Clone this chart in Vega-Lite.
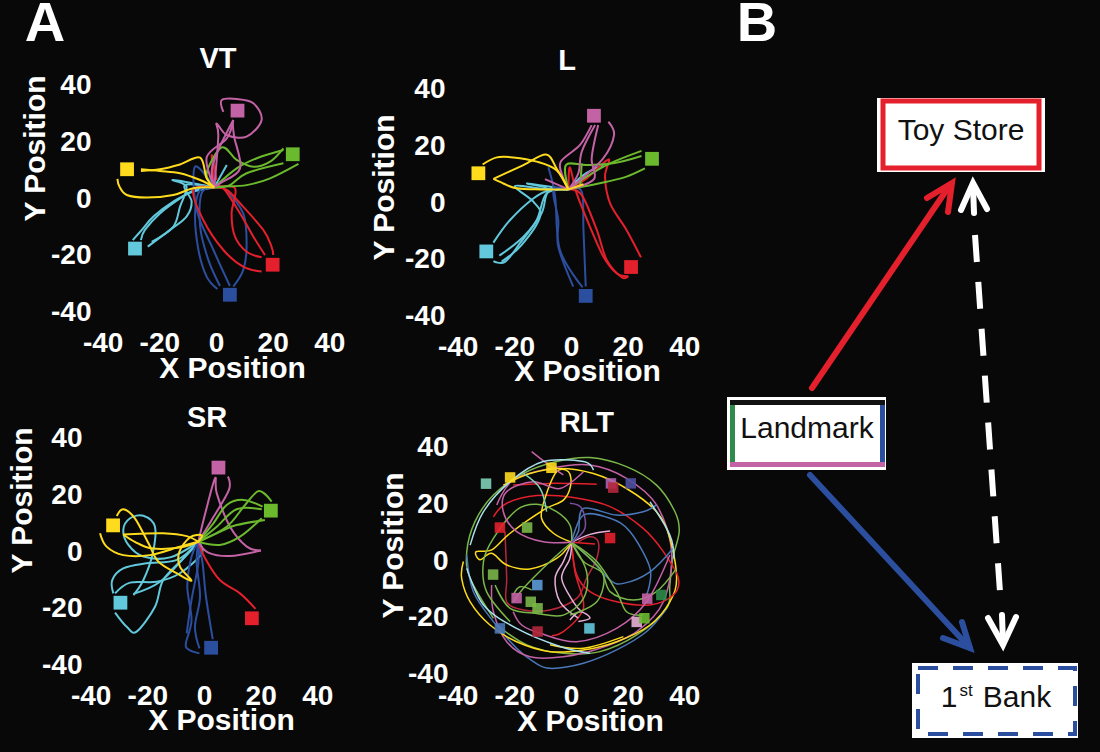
{"$schema":"https://vega.github.io/schema/vega-lite/v6.json","width":1100,"height":752,"padding":0,"autosize":"none","background":"#080808",
"config":{"view":{"stroke":null},"axis":{"domain":false,"ticks":false,"grid":false,"labelColor":"#ffffff","titleColor":"#ffffff","labelFont":"Liberation Sans","titleFont":"Liberation Sans","labelFontWeight":"bold","titleFontWeight":"bold","labelFontSize":28,"titleFontSize":30,"labelOverlap":false,"labelBound":false,"labelFlush":false,"titleBaseline":"middle","titleAnchor":"middle","labelExpr":"datum.value<0?'-'+abs(datum.value):''+datum.value"},"text":{"font":"Liberation Sans"}},
"datasets":{
"vt":[
{"c":"cyan","p":"c1","x":-0.6,"y":4.1},{"c":"cyan","p":"c1","x":-8,"y":2.6},{"c":"cyan","p":"c1","x":-15.1,"y":-0.9},{"c":"cyan","p":"c1","x":-22.1,"y":-6.2},{"c":"cyan","p":"c1","x":-26.2,"y":-10.9},{"c":"cyan","p":"c1","x":-29.4,"y":-14.5},
{"c":"cyan","p":"c2","x":-0.6,"y":4.1},{"c":"cyan","p":"c2","x":-7.4,"y":3.2},{"c":"cyan","p":"c2","x":-12.7,"y":0.2},{"c":"cyan","p":"c2","x":-19.8,"y":-5.1},{"c":"cyan","p":"c2","x":-25.1,"y":-10.9},{"c":"cyan","p":"c2","x":-26.5,"y":-14.5},
{"c":"cyan","p":"c3","x":-0.6,"y":4.1},{"c":"cyan","p":"c3","x":-10.9,"y":4.9},{"c":"cyan","p":"c3","x":-8.6,"y":-0.9},{"c":"cyan","p":"c3","x":-10.4,"y":-6.2},{"c":"cyan","p":"c3","x":-16.2,"y":-10.9},{"c":"cyan","p":"c3","x":-24.1,"y":-16.8},
{"c":"cyan","p":"c4","x":-0.6,"y":4.1},{"c":"cyan","p":"c4","x":-15.1,"y":6.7},{"c":"cyan","p":"c4","x":-10.4,"y":4.4},{"c":"cyan","p":"c4","x":-12.7,"y":-2.7},{"c":"cyan","p":"c4","x":-15.1,"y":-9.8},{"c":"cyan","p":"c4","x":-22.7,"y":-15.1},
{"c":"cyan","p":"c5","x":-0.6,"y":4.1},{"c":"cyan","p":"c5","x":3.8,"y":12},
{"c":"blue","p":"b1","x":-0.6,"y":4.1},{"c":"blue","p":"b1","x":-5.6,"y":3.2},{"c":"blue","p":"b1","x":-7.4,"y":-5.1},{"c":"blue","p":"b1","x":-6.2,"y":-18},{"c":"blue","p":"b1","x":-3.3,"y":-27.4},{"c":"blue","p":"b1","x":0.5,"y":-31.8},
{"c":"blue","p":"b2","x":-0.6,"y":4.1},{"c":"blue","p":"b2","x":-5.1,"y":2},{"c":"blue","p":"b2","x":-5.6,"y":-9.8},{"c":"blue","p":"b2","x":-2.7,"y":-21.5},{"c":"blue","p":"b2","x":1.4,"y":-30.7},
{"c":"blue","p":"b3","x":-0.6,"y":4.1},{"c":"blue","p":"b3","x":-7.4,"y":11.4},{"c":"blue","p":"b3","x":-6.8,"y":-3.9},{"c":"blue","p":"b3","x":-0.9,"y":-18},{"c":"blue","p":"b3","x":4.9,"y":-30.7},
{"c":"blue","p":"b4","x":-0.6,"y":4.1},{"c":"blue","p":"b4","x":2.6,"y":3.8},{"c":"blue","p":"b4","x":9.6,"y":-5.1},{"c":"blue","p":"b4","x":10.8,"y":-16.8},{"c":"blue","p":"b4","x":9.6,"y":-25.1},{"c":"blue","p":"b4","x":6.1,"y":-30.9},
{"c":"red","p":"r1","x":-0.6,"y":4.1},{"c":"red","p":"r1","x":-8,"y":3.2},{"c":"red","p":"r1","x":-4.5,"y":-7.4},{"c":"red","p":"r1","x":2.6,"y":-18},{"c":"red","p":"r1","x":9.6,"y":-23.9},{"c":"red","p":"r1","x":16.1,"y":-25.6},
{"c":"red","p":"r2","x":-0.6,"y":4.1},{"c":"red","p":"r2","x":6.7,"y":3.8},{"c":"red","p":"r2","x":5.5,"y":-5.1},{"c":"red","p":"r2","x":6.7,"y":-13.3},{"c":"red","p":"r2","x":10.8,"y":-18.6},{"c":"red","p":"r2","x":16.1,"y":-20.6},
{"c":"red","p":"r3","x":-0.6,"y":4.1},{"c":"red","p":"r3","x":3.8,"y":3.2},{"c":"red","p":"r3","x":8.5,"y":-1.5},{"c":"red","p":"r3","x":16.7,"y":-10.9},{"c":"red","p":"r3","x":19.6,"y":-16.8},{"c":"red","p":"r3","x":20.2,"y":-19.8},
{"c":"red","p":"r4","x":-0.6,"y":4.1},{"c":"red","p":"r4","x":2.6,"y":3.8},{"c":"red","p":"r4","x":8.5,"y":-5.1},{"c":"red","p":"r4","x":13.2,"y":-13.3},{"c":"red","p":"r4","x":17.3,"y":-19.8},
{"c":"red","p":"r5","x":-0.6,"y":4.1},{"c":"red","p":"r5","x":-1.5,"y":15.5},{"c":"red","p":"r5","x":0.2,"y":6.7},
{"c":"green","p":"g1","x":-0.6,"y":4.1},{"c":"green","p":"g1","x":2.6,"y":4.4},{"c":"green","p":"g1","x":10.8,"y":4.9},{"c":"green","p":"g1","x":19.1,"y":7.3},{"c":"green","p":"g1","x":29.1,"y":12.4},
{"c":"green","p":"g2","x":-0.6,"y":4.1},{"c":"green","p":"g2","x":4.9,"y":4.9},{"c":"green","p":"g2","x":10.8,"y":9.1},{"c":"green","p":"g2","x":23.8,"y":12.6},
{"c":"green","p":"g3","x":-0.6,"y":4.1},{"c":"green","p":"g3","x":-3.3,"y":9.1},{"c":"green","p":"g3","x":2,"y":18.2},{"c":"green","p":"g3","x":7.3,"y":13.8},{"c":"green","p":"g3","x":13.2,"y":11.4},{"c":"green","p":"g3","x":19.1,"y":13.2},{"c":"green","p":"g3","x":23.8,"y":17.9},
{"c":"green","p":"g4","x":-0.6,"y":4.1},{"c":"green","p":"g4","x":7.3,"y":10.8},{"c":"green","p":"g4","x":14.4,"y":14.4},{"c":"green","p":"g4","x":23.8,"y":17.3},
{"c":"magenta","p":"m1","x":-0.6,"y":4.1},{"c":"magenta","p":"m1","x":-1.5,"y":10.2},{"c":"magenta","p":"m1","x":0.8,"y":17.3},{"c":"magenta","p":"m1","x":6.1,"y":27.9},
{"c":"magenta","p":"m2","x":-0.6,"y":4.1},{"c":"magenta","p":"m2","x":-3.3,"y":14.7},{"c":"magenta","p":"m2","x":3.8,"y":21.4},{"c":"magenta","p":"m2","x":6.1,"y":27.9},
{"c":"magenta","p":"m3","x":-0.6,"y":4.1},{"c":"magenta","p":"m3","x":1.4,"y":5.5},{"c":"magenta","p":"m3","x":8.5,"y":10.8},{"c":"magenta","p":"m3","x":6.4,"y":22},{"c":"magenta","p":"m3","x":5.9,"y":27.3},
{"c":"magenta","p":"m4","x":-0.6,"y":4.1},{"c":"magenta","p":"m4","x":0.8,"y":22},{"c":"magenta","p":"m4","x":0.2,"y":26.7},{"c":"magenta","p":"m4","x":3.8,"y":22.6},{"c":"magenta","p":"m4","x":10.8,"y":22},{"c":"magenta","p":"m4","x":16.1,"y":27.9},{"c":"magenta","p":"m4","x":13.2,"y":33.8},{"c":"magenta","p":"m4","x":7.3,"y":35.3},{"c":"magenta","p":"m4","x":2,"y":34.9},{"c":"magenta","p":"m4","x":2.6,"y":30.8},
{"c":"yellow","p":"y1","x":-0.6,"y":4.1},{"c":"yellow","p":"y1","x":-5.6,"y":6.7},{"c":"yellow","p":"y1","x":-12.7,"y":9.1},{"c":"yellow","p":"y1","x":-19.8,"y":9.9},{"c":"yellow","p":"y1","x":-26.5,"y":10.5},
{"c":"yellow","p":"y2","x":-0.6,"y":4.1},{"c":"yellow","p":"y2","x":-3.3,"y":7.3},{"c":"yellow","p":"y2","x":-5.6,"y":14.6},{"c":"yellow","p":"y2","x":-12.7,"y":12.2},{"c":"yellow","p":"y2","x":-19.8,"y":10.5},{"c":"yellow","p":"y2","x":-26.5,"y":9.9},
{"c":"yellow","p":"y3","x":-0.6,"y":4.1},{"c":"yellow","p":"y3","x":-8,"y":3.8},{"c":"yellow","p":"y3","x":-15.1,"y":1.4},{"c":"yellow","p":"y3","x":-24.5,"y":0.5},{"c":"yellow","p":"y3","x":-31.5,"y":1.4},{"c":"yellow","p":"y3","x":-34.1,"y":4.4},{"c":"yellow","p":"y3","x":-34.8,"y":7.1}],
"vtT":[{"c":"magenta","x":7.6,"y":31.2},{"c":"green","x":27.1,"y":15.8},{"c":"yellow","x":-31.4,"y":10.5},{"c":"cyan","x":-28.6,"y":-17.5},{"c":"red","x":20,"y":-23.2},{"c":"blue","x":4.9,"y":-33.8}],
"vtL":[{"t":"VT","x":0.7,"y":49.5}],
"vtA":[{"t":"A","x":-60.4,"y":61.7}],
"l":[
{"c":"cyan","p":"c1","x":-0.9,"y":4.8},{"c":"cyan","p":"c1","x":-7.4,"y":4.6},{"c":"cyan","p":"c1","x":-13.3,"y":1.6},{"c":"cyan","p":"c1","x":-21.5,"y":-6},{"c":"cyan","p":"c1","x":-27.4,"y":-14},
{"c":"cyan","p":"c2","x":-0.9,"y":4.8},{"c":"cyan","p":"c2","x":-8,"y":4},{"c":"cyan","p":"c2","x":-10.4,"y":-3.6},{"c":"cyan","p":"c2","x":-16.8,"y":-11.9},{"c":"cyan","p":"c2","x":-25.3,"y":-18.6},
{"c":"cyan","p":"c3","x":-0.9,"y":4.8},{"c":"cyan","p":"c3","x":-8.6,"y":3.4},{"c":"cyan","p":"c3","x":-12.1,"y":-6},{"c":"cyan","p":"c3","x":-18,"y":-14.2},{"c":"cyan","p":"c3","x":-23.3,"y":-20.8},{"c":"cyan","p":"c3","x":-27.4,"y":-20.5},
{"c":"cyan","p":"c4","x":-0.9,"y":4.8},{"c":"cyan","p":"c4","x":-15.4,"y":6.9},{"c":"cyan","p":"c4","x":-8.6,"y":5.5},
{"c":"cyan","p":"c5","x":-0.9,"y":4.8},{"c":"cyan","p":"c5","x":-10,"y":5},{"c":"cyan","p":"c5","x":-19.8,"y":6},{"c":"cyan","p":"c5","x":-13.3,"y":0.5},{"c":"cyan","p":"c5","x":-10.9,"y":-4.8},{"c":"cyan","p":"c5","x":-17.4,"y":-14.8},{"c":"cyan","p":"c5","x":-24.5,"y":-20.7},
{"c":"cyan","p":"c6","x":-0.9,"y":4.8},{"c":"cyan","p":"c6","x":4.4,"y":9.9},{"c":"cyan","p":"c6","x":11.4,"y":13.4},
{"c":"blue","p":"b1","x":-0.9,"y":4.8},{"c":"blue","p":"b1","x":-6.2,"y":4.6},{"c":"blue","p":"b1","x":-4.5,"y":-6},{"c":"blue","p":"b1","x":-4.5,"y":-15.4},{"c":"blue","p":"b1","x":0.8,"y":-29.5},
{"c":"blue","p":"b2","x":-8,"y":12.6},{"c":"blue","p":"b2","x":-5.6,"y":2.2},{"c":"blue","p":"b2","x":-3.9,"y":-16.6},{"c":"blue","p":"b2","x":4.1,"y":-29.8},
{"c":"blue","p":"b3","x":-0.9,"y":4.8},{"c":"blue","p":"b3","x":3.8,"y":4},{"c":"blue","p":"b3","x":4.4,"y":-9.5},{"c":"blue","p":"b3","x":5.2,"y":-29.5},
{"c":"red","p":"r1","x":-0.9,"y":4.8},{"c":"red","p":"r1","x":-0.4,"y":12.6},{"c":"red","p":"r1","x":2,"y":3.4},{"c":"red","p":"r1","x":6.7,"y":-8.4},{"c":"red","p":"r1","x":11.4,"y":-18.9},{"c":"red","p":"r1","x":16.1,"y":-24.8},{"c":"red","p":"r1","x":20.2,"y":-25.8},
{"c":"red","p":"r2","x":-0.9,"y":4.8},{"c":"red","p":"r2","x":3.8,"y":2.8},{"c":"red","p":"r2","x":9.1,"y":-9.5},{"c":"red","p":"r2","x":12.6,"y":-20.1},{"c":"red","p":"r2","x":17.9,"y":-26.2},{"c":"red","p":"r2","x":20.2,"y":-25.8},
{"c":"red","p":"r3","x":-0.9,"y":4.8},{"c":"red","p":"r3","x":5.5,"y":8.7},{"c":"red","p":"r3","x":13.2,"y":15.4},{"c":"red","p":"r3","x":12,"y":9.3},{"c":"red","p":"r3","x":13.8,"y":-0.1},{"c":"red","p":"r3","x":19.6,"y":-9.5},{"c":"red","p":"r3","x":24.7,"y":-19.2},
{"c":"green","p":"g1","x":-0.9,"y":4.8},{"c":"green","p":"g1","x":4.4,"y":5.8},{"c":"green","p":"g1","x":12.6,"y":7.5},{"c":"green","p":"g1","x":19.6,"y":9.3},{"c":"green","p":"g1","x":26.1,"y":12.2},
{"c":"green","p":"g2","x":-0.9,"y":4.8},{"c":"green","p":"g2","x":-1.8,"y":13.4},{"c":"green","p":"g2","x":5.5,"y":13.4},{"c":"green","p":"g2","x":14.9,"y":14},{"c":"green","p":"g2","x":24.9,"y":16.6},
{"c":"green","p":"g3","x":-0.9,"y":4.8},{"c":"green","p":"g3","x":5.5,"y":9.3},{"c":"green","p":"g3","x":13.8,"y":14},{"c":"green","p":"g3","x":24.9,"y":18.4},
{"c":"green","p":"g4","x":3.8,"y":14},{"c":"green","p":"g4","x":3.2,"y":5.2},
{"c":"magenta","p":"m1","x":-0.9,"y":4.8},{"c":"magenta","p":"m1","x":-2.9,"y":9.3},{"c":"magenta","p":"m1","x":-3.6,"y":14.6},{"c":"magenta","p":"m1","x":3.2,"y":20.5},{"c":"magenta","p":"m1","x":7.3,"y":27.5},
{"c":"magenta","p":"m2","x":-0.9,"y":4.8},{"c":"magenta","p":"m2","x":2.6,"y":10.5},{"c":"magenta","p":"m2","x":3.8,"y":18.1},{"c":"magenta","p":"m2","x":8.5,"y":27.5},
{"c":"magenta","p":"m3","x":-0.9,"y":4.8},{"c":"magenta","p":"m3","x":8.1,"y":8.4},{"c":"magenta","p":"m3","x":7.3,"y":15.8},{"c":"magenta","p":"m3","x":9.6,"y":27.5},
{"c":"magenta","p":"m4","x":-0.9,"y":4.8},{"c":"magenta","p":"m4","x":3.2,"y":8.1},{"c":"magenta","p":"m4","x":11.4,"y":15.8},{"c":"magenta","p":"m4","x":15.2,"y":24},{"c":"magenta","p":"m4","x":13.2,"y":28.7},
{"c":"magenta","p":"m5","x":-0.9,"y":4.8},{"c":"magenta","p":"m5","x":-9.2,"y":8.4},
{"c":"yellow","p":"y1","x":-0.9,"y":4.8},{"c":"yellow","p":"y1","x":-5.1,"y":11.6},{"c":"yellow","p":"y1","x":-12.1,"y":14.6},{"c":"yellow","p":"y1","x":-20.4,"y":16.1},{"c":"yellow","p":"y1","x":-26.2,"y":16.1},{"c":"yellow","p":"y1","x":-31.2,"y":13.6},
{"c":"yellow","p":"y2","x":-0.9,"y":4.8},{"c":"yellow","p":"y2","x":-5.1,"y":12.2},{"c":"yellow","p":"y2","x":-8.8,"y":17.1},{"c":"yellow","p":"y2","x":-16.8,"y":13.4},{"c":"yellow","p":"y2","x":-27.4,"y":8.5},
{"c":"yellow","p":"y3","x":-0.9,"y":4.8},{"c":"yellow","p":"y3","x":-10.9,"y":4.8},{"c":"yellow","p":"y3","x":-19.2,"y":5.2},{"c":"yellow","p":"y3","x":-23.9,"y":6.9},{"c":"yellow","p":"y3","x":-27.4,"y":8.5},
{"c":"yellow","p":"y4","x":-0.9,"y":4.8},{"c":"yellow","p":"y4","x":4.4,"y":6.6}],
"lT":[{"c":"magenta","x":8.1,"y":30.8},{"c":"green","x":28.6,"y":15.6},{"c":"yellow","x":-32.7,"y":10.5},{"c":"cyan","x":-29.9,"y":-17.1},{"c":"red","x":21.2,"y":-22.6},{"c":"blue","x":5.2,"y":-32.8}],
"lL":[{"t":"L","x":-1.4,"y":50.2}],
"sr":[
{"c":"cyan","p":"c1","x":-2,"y":3.6},{"c":"cyan","p":"c1","x":-12,"y":-1.9},{"c":"cyan","p":"c1","x":-21.4,"y":-1.6},{"c":"cyan","p":"c1","x":-26.7,"y":2.5},{"c":"cyan","p":"c1","x":-28.5,"y":7.8},{"c":"cyan","p":"c1","x":-26.1,"y":11.9},{"c":"cyan","p":"c1","x":-21.4,"y":12.8},{"c":"cyan","p":"c1","x":-17.3,"y":8.9},{"c":"cyan","p":"c1","x":-18.1,"y":-0.5},{"c":"cyan","p":"c1","x":-21.4,"y":-9.9},{"c":"cyan","p":"c1","x":-24.9,"y":-15.2},
{"c":"cyan","p":"c2","x":-2,"y":3.6},{"c":"cyan","p":"c2","x":-9.6,"y":-2.8},{"c":"cyan","p":"c2","x":-20.2,"y":-4},{"c":"cyan","p":"c2","x":-28.5,"y":-5.8},{"c":"cyan","p":"c2","x":-32.4,"y":-9.9},{"c":"cyan","p":"c2","x":-32,"y":-14.6},
{"c":"cyan","p":"c3","x":-2,"y":3.6},{"c":"cyan","p":"c3","x":-0.8,"y":-0.5},{"c":"cyan","p":"c3","x":-8.5,"y":-7.5},{"c":"cyan","p":"c3","x":-16.7,"y":-10.5},{"c":"cyan","p":"c3","x":-26.1,"y":-10.8},{"c":"cyan","p":"c3","x":-31.4,"y":-14.6},
{"c":"cyan","p":"c4","x":-2,"y":3.6},{"c":"cyan","p":"c4","x":-6.1,"y":-1.1},{"c":"cyan","p":"c4","x":-15.5,"y":-10.5},{"c":"cyan","p":"c4","x":-24.9,"y":-14.8},
{"c":"cyan","p":"c5","x":-2,"y":3.6},{"c":"cyan","p":"c5","x":-7.3,"y":-2.2},{"c":"cyan","p":"c5","x":-14.4,"y":-9.9},{"c":"cyan","p":"c5","x":-17.3,"y":-19.3},{"c":"cyan","p":"c5","x":-23.8,"y":-28.1},{"c":"cyan","p":"c5","x":-27.3,"y":-26.4},{"c":"cyan","p":"c5","x":-31.4,"y":-21.4},
{"c":"blue","p":"b1","x":-2,"y":3.6},{"c":"blue","p":"b1","x":-4.4,"y":-1.6},{"c":"blue","p":"b1","x":-5.9,"y":-12.2},{"c":"blue","p":"b1","x":-4.4,"y":-24},{"c":"blue","p":"b1","x":-6.4,"y":-32.2},{"c":"blue","p":"b1","x":-5.5,"y":-34.4},{"c":"blue","p":"b1","x":-1.6,"y":-35.8},
{"c":"blue","p":"b2","x":-2,"y":3.6},{"c":"blue","p":"b2","x":-2,"y":-4},{"c":"blue","p":"b2","x":-4.4,"y":-16.9},{"c":"blue","p":"b2","x":-6.1,"y":-28.7},
{"c":"blue","p":"b3","x":-2,"y":3.6},{"c":"blue","p":"b3","x":-2.6,"y":-4},{"c":"blue","p":"b3","x":-1.4,"y":-15.8},{"c":"blue","p":"b3","x":-3.2,"y":-26.4},{"c":"blue","p":"b3","x":-1.6,"y":-34},
{"c":"blue","p":"b4","x":-2,"y":3.6},{"c":"blue","p":"b4","x":-0.5,"y":-4},{"c":"blue","p":"b4","x":0.7,"y":-15.8},{"c":"blue","p":"b4","x":3.1,"y":-30.8},
{"c":"red","p":"r1","x":-2,"y":3.6},{"c":"red","p":"r1","x":0.4,"y":-2.2},{"c":"red","p":"r1","x":5.6,"y":-9.9},{"c":"red","p":"r1","x":12.7,"y":-14.6},{"c":"red","p":"r1","x":18.2,"y":-20.1},
{"c":"magenta","p":"m1","x":-2,"y":3.6},{"c":"magenta","p":"m1","x":0.4,"y":13.5},{"c":"magenta","p":"m1","x":3.9,"y":26},{"c":"magenta","p":"m1","x":4.5,"y":20.7},{"c":"magenta","p":"m1","x":9.2,"y":8.9},{"c":"magenta","p":"m1","x":15.1,"y":1.9},{"c":"magenta","p":"m1","x":20.1,"y":0.5},
{"c":"magenta","p":"m2","x":-2,"y":3.6},{"c":"magenta","p":"m2","x":2.7,"y":11.3},{"c":"magenta","p":"m2","x":8.8,"y":21.9},{"c":"magenta","p":"m2","x":8.4,"y":26.6},
{"c":"magenta","p":"m4","x":-2,"y":3.6},{"c":"magenta","p":"m4","x":1.5,"y":-0.2},{"c":"magenta","p":"m4","x":9.2,"y":-1.4},{"c":"magenta","p":"m4","x":20.1,"y":0.5},
{"c":"green","p":"g1","x":-2,"y":3.6},{"c":"green","p":"g1","x":3.3,"y":10.1},{"c":"green","p":"g1","x":8,"y":16.6},{"c":"green","p":"g1","x":13.9,"y":18.4},{"c":"green","p":"g1","x":20.7,"y":16},
{"c":"green","p":"g2","x":-2,"y":3.6},{"c":"green","p":"g2","x":4.5,"y":8.9},{"c":"green","p":"g2","x":11.5,"y":15.1},{"c":"green","p":"g2","x":20.4,"y":15.1},
{"c":"green","p":"g3","x":-2,"y":3.6},{"c":"green","p":"g3","x":8,"y":8.9},{"c":"green","p":"g3","x":14.5,"y":16.6},{"c":"green","p":"g3","x":19.4,"y":21.5},{"c":"green","p":"g3","x":23.9,"y":17.8},
{"c":"green","p":"g4","x":-2,"y":3.6},{"c":"green","p":"g4","x":5.6,"y":7.1},{"c":"green","p":"g4","x":11.5,"y":9.5},{"c":"green","p":"g4","x":21.5,"y":11.3},
{"c":"green","p":"g5","x":-2,"y":3.6},{"c":"green","p":"g5","x":5.6,"y":2.5},{"c":"green","p":"g5","x":12.7,"y":5.4},{"c":"green","p":"g5","x":20.4,"y":11.9},
{"c":"yellow","p":"y1","x":-2,"y":3.6},{"c":"yellow","p":"y1","x":-8.5,"y":1.9},{"c":"yellow","p":"y1","x":-19.1,"y":-1.1},{"c":"yellow","p":"y1","x":-28.5,"y":-1.1},{"c":"yellow","p":"y1","x":-34.4,"y":1.9},{"c":"yellow","p":"y1","x":-36.7,"y":6.6},
{"c":"yellow","p":"y2","x":-2,"y":3.6},{"c":"yellow","p":"y2","x":-8.5,"y":1.6},{"c":"yellow","p":"y2","x":-18.5,"y":1.3},{"c":"yellow","p":"y2","x":-24.4,"y":3.6},{"c":"yellow","p":"y2","x":-28.5,"y":6.2},
{"c":"yellow","p":"y3","x":-2,"y":3.6},{"c":"yellow","p":"y3","x":-6.1,"y":5.6},{"c":"yellow","p":"y3","x":-14.4,"y":6.6},{"c":"yellow","p":"y3","x":-22.6,"y":6.4},{"c":"yellow","p":"y3","x":-28.5,"y":6.2},
{"c":"yellow","p":"y4","x":-2,"y":3.6},{"c":"yellow","p":"y4","x":-0.8,"y":5.9},{"c":"yellow","p":"y4","x":-4.9,"y":5.2},{"c":"yellow","p":"y4","x":-8.7,"y":0.1},{"c":"yellow","p":"y4","x":-8.5,"y":-5.2},{"c":"yellow","p":"y4","x":-4.4,"y":-10.1},{"c":"yellow","p":"y4","x":-9.6,"y":-7.5},{"c":"yellow","p":"y4","x":-16.1,"y":-3.4},{"c":"yellow","p":"y4","x":-19.6,"y":3.1},{"c":"yellow","p":"y4","x":-24.4,"y":11.9},{"c":"yellow","p":"y4","x":-28.5,"y":15.1},{"c":"yellow","p":"y4","x":-30.8,"y":12.7}],
"srT":[{"c":"magenta","x":5.1,"y":29.8},{"c":"green","x":23.6,"y":14.6},{"c":"yellow","x":-32.1,"y":9.4},{"c":"cyan","x":-29.5,"y":-17.9},{"c":"red","x":16.9,"y":-23.4},{"c":"blue","x":2.5,"y":-33.8}],
"srL":[{"t":"SR","x":1.1,"y":47.2}],
"rlt":[
{"c":"lime","p":"a","x":-27.4,"y":-20.2},{"c":"lime","p":"a","x":-35.6,"y":-6.1},{"c":"lime","p":"a","x":-36.8,"y":3.3},{"c":"lime","p":"a","x":-33.9,"y":13.9},{"c":"lime","p":"a","x":-27.4,"y":23.3},{"c":"lime","p":"a","x":-16.8,"y":30.9},{"c":"lime","p":"a","x":-5.1,"y":35.1},{"c":"lime","p":"a","x":6.7,"y":36.5},{"c":"lime","p":"a","x":19.6,"y":33.3},{"c":"lime","p":"a","x":30.2,"y":26.8},{"c":"lime","p":"a","x":36.7,"y":17.4},{"c":"lime","p":"a","x":38.2,"y":10.4},{"c":"lime","p":"a","x":35.9,"y":0.9},{"c":"lime","p":"a","x":34.9,"y":-8.5},{"c":"lime","p":"a","x":33.8,"y":-16.7},{"c":"lime","p":"a","x":23.2,"y":-26.1},{"c":"lime","p":"a","x":10.2,"y":-32},{"c":"lime","p":"a","x":-2.7,"y":-32.6},{"c":"lime","p":"a","x":-15.6,"y":-29.6},{"c":"lime","p":"a","x":-26.2,"y":-22.6},
{"c":"steel","p":"bl","x":-36.8,"y":2.1},{"c":"steel","p":"bl","x":-34.5,"y":-10.8},{"c":"steel","p":"bl","x":-27.4,"y":-21.4},{"c":"steel","p":"bl","x":-19.2,"y":-30.8},{"c":"steel","p":"bl","x":-13.3,"y":-35.5},{"c":"steel","p":"bl","x":-7.4,"y":-37.9},{"c":"steel","p":"bl","x":4.4,"y":-36.1},{"c":"steel","p":"bl","x":16.1,"y":-31.4},{"c":"steel","p":"bl","x":26.7,"y":-24.9},{"c":"steel","p":"bl","x":33.8,"y":-16.7},
{"c":"magenta","p":"mb","x":-28,"y":-8.5},{"c":"magenta","p":"mb","x":-27.4,"y":-17.9},{"c":"magenta","p":"mb","x":-22.7,"y":-28.5},{"c":"magenta","p":"mb","x":-14.5,"y":-33.8},{"c":"magenta","p":"mb","x":-2.7,"y":-33.8},{"c":"magenta","p":"mb","x":10.2,"y":-30.8},{"c":"magenta","p":"mb","x":23.2,"y":-24.9},{"c":"magenta","p":"mb","x":32.6,"y":-14.4},{"c":"magenta","p":"mb","x":35.5,"y":3.3},{"c":"magenta","p":"mb","x":30.2,"y":19.8},{"c":"magenta","p":"mb","x":19.6,"y":29.2},{"c":"magenta","p":"mb","x":6.7,"y":33.9},{"c":"magenta","p":"mb","x":-7.4,"y":32.7},{"c":"magenta","p":"mb","x":-20.4,"y":28.6},{"c":"magenta","p":"mb","x":-26.2,"y":19.8},
{"c":"yellow","p":"yb","x":-38,"y":-0.2},{"c":"yellow","p":"yb","x":-38.6,"y":-6.1},{"c":"yellow","p":"yb","x":-35.6,"y":-14.4},{"c":"yellow","p":"yb","x":-28.6,"y":-22.6},{"c":"yellow","p":"yb","x":-19.2,"y":-28.5},{"c":"yellow","p":"yb","x":-7.4,"y":-32},{"c":"yellow","p":"yb","x":4.4,"y":-31.4},{"c":"yellow","p":"yb","x":16.1,"y":-28.5},{"c":"yellow","p":"yb","x":27.9,"y":-22.6},{"c":"yellow","p":"yb","x":34.9,"y":-14.4},{"c":"yellow","p":"yb","x":37.3,"y":-6.1},{"c":"yellow","p":"yb","x":34.9,"y":8},{"c":"yellow","p":"yb","x":30.2,"y":17.4},{"c":"yellow","p":"yb","x":19.6,"y":25.6},{"c":"yellow","p":"yb","x":7.9,"y":30.9},{"c":"yellow","p":"yb","x":-3.9,"y":32.7},{"c":"yellow","p":"yb","x":-14.5,"y":30.9},{"c":"yellow","p":"yb","x":-23.9,"y":26.8},
{"c":"red","p":"r1","x":-27.4,"y":15.6},{"c":"red","p":"r1","x":-22.7,"y":20.4},{"c":"red","p":"r1","x":-12.1,"y":23.1},{"c":"red","p":"r1","x":0.8,"y":22.4},{"c":"red","p":"r1","x":13.8,"y":19.2},{"c":"red","p":"r1","x":25.5,"y":11.5},{"c":"red","p":"r1","x":32.6,"y":3.3},{"c":"red","p":"r1","x":37.9,"y":-6.1},{"c":"red","p":"r1","x":36.1,"y":-12},{"c":"red","p":"r1","x":27.9,"y":-15.5},{"c":"red","p":"r1","x":16.1,"y":-14.4},{"c":"red","p":"r1","x":6.7,"y":-10.8},{"c":"red","p":"r1","x":2,"y":-4.9},{"c":"red","p":"r1","x":0.2,"y":6.6},
{"c":"red","p":"r2","x":-20.4,"y":26.8},{"c":"red","p":"r2","x":-7.4,"y":27.4},{"c":"red","p":"r2","x":9.1,"y":27.1},
{"c":"darkred","p":"r3","x":-23.3,"y":10.4},{"c":"darkred","p":"r3","x":-22.7,"y":-6.1},{"c":"darkred","p":"r3","x":-22.7,"y":-14.4},{"c":"darkred","p":"r3","x":-16.8,"y":-17.3},{"c":"darkred","p":"r3","x":-7.4,"y":-17.3},{"c":"darkred","p":"r3","x":2,"y":-13.2},{"c":"darkred","p":"r3","x":5.5,"y":-6.1},{"c":"darkred","p":"r3","x":9.1,"y":0.9},{"c":"darkred","p":"r3","x":9.6,"y":6.8},{"c":"darkred","p":"r3","x":6.7,"y":8.6},{"c":"darkred","p":"r3","x":2.6,"y":6.8},
{"c":"red","p":"r4","x":0.2,"y":6.6},{"c":"red","p":"r4","x":1.4,"y":-3.8},{"c":"red","p":"r4","x":4.4,"y":-14.4},{"c":"red","p":"r4","x":3.2,"y":-19.1},{"c":"red","p":"r4","x":-2.7,"y":-24.9},{"c":"red","p":"r4","x":-6.8,"y":-26.4},
{"c":"red","p":"r5","x":0.2,"y":6.6},{"c":"red","p":"r5","x":8.5,"y":6},
{"c":"steel","p":"b1","x":0.2,"y":6.6},{"c":"steel","p":"b1","x":4.4,"y":16.2},{"c":"steel","p":"b1","x":13.8,"y":15.1},{"c":"steel","p":"b1","x":20.8,"y":10.4},{"c":"steel","p":"b1","x":27.9,"y":-2.6},{"c":"steel","p":"b1","x":26.7,"y":-12},
{"c":"steel","p":"b2","x":0.2,"y":6.6},{"c":"steel","p":"b2","x":6.7,"y":0.9},{"c":"steel","p":"b2","x":13.8,"y":-6.7},{"c":"steel","p":"b2","x":18.5,"y":-7.9},{"c":"steel","p":"b2","x":27.9,"y":-3.8},{"c":"steel","p":"b2","x":36.1,"y":4.5},
{"c":"steel","p":"b3","x":0.2,"y":6.6},{"c":"steel","p":"b3","x":2.6,"y":10.4},{"c":"steel","p":"b3","x":4.4,"y":18.6},{"c":"steel","p":"b3","x":16.1,"y":16.2},{"c":"steel","p":"b3","x":25.5,"y":17.4},{"c":"steel","p":"b3","x":30.2,"y":19.8},
{"c":"pink","p":"p1","x":-0.4,"y":-20.8},{"c":"pink","p":"p1","x":3.2,"y":-17.9},{"c":"pink","p":"p1","x":6.7,"y":-20.2},{"c":"pink","p":"p1","x":2.6,"y":-21.4},
{"c":"pink","p":"p2","x":13.8,"y":10.6},{"c":"pink","p":"p2","x":6.7,"y":9.4},{"c":"pink","p":"p2","x":0.2,"y":6.6},
{"c":"pink","p":"p3","x":0.2,"y":6.6},{"c":"pink","p":"p3","x":-2.7,"y":-0.2},{"c":"pink","p":"p3","x":-5.6,"y":-6.1},{"c":"pink","p":"p3","x":-3.9,"y":-14.4},{"c":"pink","p":"p3","x":2.6,"y":-20.2},
{"c":"pink","p":"p4","x":0.2,"y":6.6},{"c":"pink","p":"p4","x":-0.4,"y":0.9},{"c":"pink","p":"p4","x":-3.3,"y":-6.1},{"c":"pink","p":"p4","x":0.8,"y":-14.4},{"c":"pink","p":"p4","x":3.8,"y":-17.9},
{"c":"yellow","p":"yc","x":0.2,"y":6.6},{"c":"yellow","p":"yc","x":-5.1,"y":0.9},{"c":"yellow","p":"yc","x":-14.5,"y":-2.8},{"c":"yellow","p":"yc","x":-22.7,"y":-1.4},{"c":"yellow","p":"yc","x":-28,"y":2.7},{"c":"yellow","p":"yc","x":-32.1,"y":0.4},{"c":"yellow","p":"yc","x":-33.5,"y":3.3},{"c":"yellow","p":"yc","x":-28,"y":3.9},{"c":"yellow","p":"yc","x":-21.5,"y":9.8},{"c":"yellow","p":"yc","x":-9.8,"y":18},{"c":"yellow","p":"yc","x":-2.7,"y":21.5},{"c":"yellow","p":"yc","x":-0.1,"y":26.8},{"c":"yellow","p":"yc","x":-0.9,"y":31.5},{"c":"yellow","p":"yc","x":-5.1,"y":31.5},{"c":"yellow","p":"yc","x":-9.2,"y":22.1},{"c":"yellow","p":"yc","x":-10.4,"y":15.1},{"c":"yellow","p":"yc","x":-6.2,"y":9.8},{"c":"yellow","p":"yc","x":0.2,"y":6.6},
{"c":"yellow","p":"y2","x":-7.4,"y":-29.6},{"c":"yellow","p":"y2","x":4.4,"y":-30.8},{"c":"yellow","p":"y2","x":18.5,"y":-26.7},
{"c":"lime","p":"g1","x":0.2,"y":6.6},{"c":"lime","p":"g1","x":-0.4,"y":12.7},{"c":"lime","p":"g1","x":-5.1,"y":17.4},{"c":"lime","p":"g1","x":-12.1,"y":20},{"c":"lime","p":"g1","x":-19.2,"y":18},{"c":"lime","p":"g1","x":-27.4,"y":8},{"c":"lime","p":"g1","x":-30.9,"y":-0.2},{"c":"lime","p":"g1","x":-29.8,"y":-10.8},{"c":"lime","p":"g1","x":-21.5,"y":-21.4},
{"c":"lime","p":"g2","x":0.2,"y":6.6},{"c":"lime","p":"g2","x":5.5,"y":-3.8},{"c":"lime","p":"g2","x":4.4,"y":-13.2},{"c":"lime","p":"g2","x":-2.7,"y":-19.1},{"c":"lime","p":"g2","x":-12.1,"y":-18.5},{"c":"lime","p":"g2","x":-21.5,"y":-16.7},{"c":"lime","p":"g2","x":-26.8,"y":-8.5},
{"c":"lime","p":"g3","x":0.2,"y":6.6},{"c":"lime","p":"g3","x":9.1,"y":-0.2},{"c":"lime","p":"g3","x":16.1,"y":-10.8},{"c":"lime","p":"g3","x":19.6,"y":-17.9},{"c":"lime","p":"g3","x":25.5,"y":-19.1},
{"c":"lime","p":"g4","x":0.2,"y":6.6},{"c":"lime","p":"g4","x":10.2,"y":-2.6},{"c":"lime","p":"g4","x":13.8,"y":-10.8},{"c":"lime","p":"g4","x":22,"y":-13.8},{"c":"lime","p":"g4","x":30.2,"y":-10.8},{"c":"lime","p":"g4","x":37.3,"y":-2.6},
{"c":"lime","p":"g5","x":0.2,"y":6.6},{"c":"lime","p":"g5","x":4.4,"y":-0.2},{"c":"lime","p":"g5","x":11.4,"y":-4.9},{"c":"lime","p":"g5","x":9.1,"y":-14.4},{"c":"lime","p":"g5","x":-0.4,"y":-19.1},
{"c":"lime","p":"g6","x":-20.4,"y":-12},{"c":"lime","p":"g6","x":-18,"y":-9.1},{"c":"lime","p":"g6","x":-13.9,"y":-10.2},
{"c":"lime","p":"g7","x":0.2,"y":6.6},{"c":"lime","p":"g7","x":-7.4,"y":-0.2},{"c":"lime","p":"g7","x":-16.8,"y":-9.6},{"c":"lime","p":"g7","x":-20.4,"y":-14.4},
{"c":"magenta","p":"m1","x":0.2,"y":6.6},{"c":"magenta","p":"m1","x":-9.8,"y":6.8},{"c":"magenta","p":"m1","x":-19.2,"y":10.4},{"c":"magenta","p":"m1","x":-23.9,"y":17.4},{"c":"magenta","p":"m1","x":-22.7,"y":24.5},{"c":"magenta","p":"m1","x":-13.3,"y":28},{"c":"magenta","p":"m1","x":-3.9,"y":25.6},{"c":"magenta","p":"m1","x":4.4,"y":31.5},
{"c":"magenta","p":"m2","x":-13.9,"y":38.6},{"c":"magenta","p":"m2","x":-8.6,"y":34.5},{"c":"magenta","p":"m2","x":-2.7,"y":30.4},
{"c":"purple","p":"u1","x":-0.4,"y":20.4},{"c":"purple","p":"u1","x":3.8,"y":18.6},{"c":"purple","p":"u1","x":4.9,"y":11.5},{"c":"purple","p":"u1","x":0.2,"y":6.6},
{"c":"teal","p":"t1","x":-16.8,"y":30.9},{"c":"teal","p":"t1","x":-10.9,"y":25.6},{"c":"teal","p":"t1","x":-8.6,"y":17.4},
{"c":"magenta","p":"m3","x":-20.4,"y":-17.9},{"c":"magenta","p":"m3","x":-17.4,"y":-22.6},{"c":"magenta","p":"m3","x":-10.9,"y":-25.5},{"c":"magenta","p":"m3","x":2,"y":-28.5},{"c":"magenta","p":"m3","x":16.1,"y":-23.8},{"c":"magenta","p":"m3","x":26.7,"y":-14.4},{"c":"magenta","p":"m3","x":34.9,"y":2.1},
{"c":"lightcyan","p":"l1","x":-35.6,"y":5.6},{"c":"lightcyan","p":"l1","x":-30.9,"y":17.4},{"c":"lightcyan","p":"l1","x":-21.5,"y":28},{"c":"lightcyan","p":"l1","x":-9.8,"y":35.1},{"c":"lightcyan","p":"l1","x":4.4,"y":35.1},{"c":"lightcyan","p":"l1","x":7.9,"y":32.1},
{"c":"lightcyan","p":"l2","x":-36.8,"y":-2.6},{"c":"lightcyan","p":"l2","x":-30.9,"y":-15.5},{"c":"lightcyan","p":"l2","x":-19.2,"y":-23.8},{"c":"lightcyan","p":"l2","x":-3.9,"y":-30.2},{"c":"lightcyan","p":"l2","x":6.7,"y":-32.6},
{"c":"lightcyan","p":"l3","x":27.9,"y":20.9},{"c":"lightcyan","p":"l3","x":34.9,"y":9.2},{"c":"lightcyan","p":"l3","x":36.4,"y":0.9}],
"rltT":[{"c":"teal","x":-30,"y":27.3},{"c":"yellow","x":-21.5,"y":29.5},{"c":"yellow","x":-6.9,"y":32.9},{"c":"orchid","x":14.1,"y":27.4},{"c":"darkred","x":14.9,"y":25.9},{"c":"indigo","x":21.1,"y":27.4},{"c":"red","x":-25.1,"y":11.8},{"c":"lime","x":-15.5,"y":11.8},{"c":"red","x":13.8,"y":8.1},{"c":"lime","x":-27.5,"y":-4.8},{"c":"skyblue","x":-11.9,"y":-8.5},{"c":"magenta","x":-19.2,"y":-13.1},{"c":"lime","x":-14.2,"y":-14.4},{"c":"lime","x":-11.8,"y":-16.7},{"c":"magenta","x":26.9,"y":-13.3},{"c":"darkgreen","x":31.9,"y":-12},{"c":"pink","x":23.2,"y":-21.5},{"c":"green","x":25.9,"y":-20.2},{"c":"steel","x":-25.1,"y":-23.8},{"c":"darkred","x":-11.8,"y":-24.9},{"c":"cyan","x":6.5,"y":-23.8}],
"rltL":[{"t":"RLT","x":5.6,"y":48.7}],
"boxes":[{"x":15.7,"x2":32.5,"y":9.8,"y2":17.2,"c":"white"},{"x":0.7,"x2":16.6,"y":39.7,"y2":47,"c":"white"},{"x":19.2,"x2":35.8,"y":66.3,"y2":73.8,"c":"white"},{"x":1,"x2":1.5,"y":40,"y2":46.7,"c":"forest"},{"x":16,"x2":16.5,"y":40,"y2":46.7,"c":"blue"},{"x":1,"x2":16.5,"y":46.2,"y2":46.7,"c":"magenta"},{"x":1,"x2":16.5,"y":40,"y2":40.5,"c":"black"}],
"arrows":[{"c":"red","p":"r1","x":9.2,"y":38.8},{"c":"red","p":"r1","x":23,"y":18.5},{"c":"red","p":"r2","x":20.7,"y":19.8},{"c":"red","p":"r2","x":23.2,"y":18.3},{"c":"red","p":"r2","x":22.8,"y":21.2},{"c":"blue","p":"b1","x":9,"y":47.5},{"c":"blue","p":"b1","x":25,"y":64.8},{"c":"blue","p":"b2","x":22.3,"y":63.8},{"c":"blue","p":"b2","x":25,"y":64.8},{"c":"blue","p":"b2","x":24.2,"y":62.2},{"c":"white","p":"w1","x":24.1,"y":21},{"c":"white","p":"w1","x":25.3,"y":18.3},{"c":"white","p":"w1","x":26.7,"y":20.9},{"c":"white","p":"w2","x":25.3,"y":18.6},{"c":"white","p":"w2","x":25.4,"y":21.3},{"c":"white","p":"w3","x":26.8,"y":61.8},{"c":"white","p":"w3","x":28.3,"y":64.5},{"c":"white","p":"w3","x":29.6,"y":61.7},{"c":"white","p":"w4","x":28.3,"y":64.3},{"c":"white","p":"w4","x":28.2,"y":61.5}],
"dash":[{"x":25.5,"y":23.5},{"x":28,"y":59.2}],
"texts":[{"t":"Toy Store","x":24.1,"y":13.1},{"t":"Landmark","x":8.7,"y":42.9},{"t":"1","x":22.9,"y":69.8},{"t":"Bank","x":29.7,"y":69.8}],
"sup":[{"t":"st","x":24.6,"y":69.1}],
"letterB":[{"t":"B","x":3.7,"y":2.4}]
},
"encoding":{},
"layer":[
{"encoding":{"x":{"field":"x","type":"quantitative","scale":{"domain":[-40,40],"range":[102.7,329.3]},"axis":{"title":"X Position","orient":"bottom","offset":-439.7,"labelPadding":17,"titleX":232,"titleY":56,"values":[-40,-20,0,20,40]}},"y":{"field":"y","type":"quantitative","scale":{"domain":[-40,40],"range":[312.3,85.7]},"axis":{"title":"Y Position","orient":"left","offset":-92,"labelPadding":1,"titleX":-57,"titleY":148,"values":[-40,-20,0,20,40]}}},
"layer":[
{"data":{"name":"vt"},"mark":{"type":"line","interpolate":"cardinal","strokeWidth":2},"encoding":{"color":{"field":"c","type":"nominal","legend":null,"scale":{"domain":["yellow","cyan","blue","red","green","magenta","lime","steel","darkred","pink","purple","teal","lightcyan","orchid","indigo","skyblue","darkgreen","white"],"range":["#FFDB1E","#62C8DC","#2C4E9E","#E3202C","#6BB92D","#C462A6","#7AB648","#4A78B8","#B5283C","#E8B0D8","#7A4FA0","#7FD1B9","#A8E0EE","#B060B0","#4F4FA0","#5B9BD5","#2E8B4A","#ffffff"]}},"detail":{"field":"p"},"order":{"value":null}}},
{"data":{"name":"vtT"},"mark":{"type":"point","shape":"square","filled":true,"opacity":1,"size":190},"encoding":{"color":{"field":"c","type":"nominal","legend":null}}},
{"data":{"name":"vtL"},"mark":{"type":"text","fontWeight":"bold","color":"#ffffff","fontSize":29},"encoding":{"text":{"field":"t"}}},
{"data":{"name":"vtA"},"mark":{"type":"text","fontWeight":"bold","color":"#ffffff","fontSize":56},"encoding":{"text":{"field":"t"}}}
]},
{"encoding":{"x":{"field":"x","type":"quantitative","scale":{"domain":[-40,40],"range":[457.7,684.3]},"axis":{"title":"X Position","orient":"bottom","offset":-435.7,"labelPadding":17,"titleX":587,"titleY":55,"values":[-40,-20,0,20,40]}},"y":{"field":"y","type":"quantitative","scale":{"domain":[-40,40],"range":[316.3,89.7]},"axis":{"title":"Y Position","orient":"left","offset":-446,"labelPadding":1,"titleX":-62,"titleY":187,"values":[-40,-20,0,20,40]}}},
"layer":[
{"data":{"name":"l"},"mark":{"type":"line","interpolate":"cardinal","strokeWidth":2},"encoding":{"color":{"field":"c","type":"nominal","legend":null},"detail":{"field":"p"},"order":{"value":null}}},
{"data":{"name":"lT"},"mark":{"type":"point","shape":"square","filled":true,"opacity":1,"size":190},"encoding":{"color":{"field":"c","type":"nominal","legend":null}}},
{"data":{"name":"lL"},"mark":{"type":"text","fontWeight":"bold","color":"#ffffff","fontSize":29},"encoding":{"text":{"field":"t"}}}
]},
{"encoding":{"x":{"field":"x","type":"quantitative","scale":{"domain":[-40,40],"range":[90.7,317.3]},"axis":{"title":"X Position","orient":"bottom","offset":-86.7,"labelPadding":17,"titleX":221,"titleY":55,"values":[-40,-20,0,20,40]}},"y":{"field":"y","type":"quantitative","scale":{"domain":[-40,40],"range":[665.3,438.7]},"axis":{"title":"Y Position","orient":"left","offset":-83,"labelPadding":1,"titleX":-61,"titleY":500,"values":[-40,-20,0,20,40]}}},
"layer":[
{"data":{"name":"sr"},"mark":{"type":"line","interpolate":"cardinal","strokeWidth":2},"encoding":{"color":{"field":"c","type":"nominal","legend":null},"detail":{"field":"p"},"order":{"value":null}}},
{"data":{"name":"srT"},"mark":{"type":"point","shape":"square","filled":true,"opacity":1,"size":190},"encoding":{"color":{"field":"c","type":"nominal","legend":null}}},
{"data":{"name":"srL"},"mark":{"type":"text","fontWeight":"bold","color":"#ffffff","fontSize":29},"encoding":{"text":{"field":"t"}}}
]},
{"encoding":{"x":{"field":"x","type":"quantitative","scale":{"domain":[-40,40],"range":[457.7,684.3]},"axis":{"title":"X Position","orient":"bottom","offset":-77.7,"labelPadding":8,"titleX":590,"titleY":47,"values":[-40,-20,0,20,40]}},"y":{"field":"y","type":"quantitative","scale":{"domain":[-40,40],"range":[674.3,447.7]},"axis":{"title":"Y Position","orient":"left","offset":-449,"labelPadding":1,"titleX":-56,"titleY":545,"values":[-40,-20,0,20,40]}}},
"layer":[
{"data":{"name":"rlt"},"mark":{"type":"line","interpolate":"cardinal","strokeWidth":1.5},"encoding":{"color":{"field":"c","type":"nominal","legend":null},"detail":{"field":"p"},"order":{"value":null}}},
{"data":{"name":"rltT"},"mark":{"type":"point","shape":"square","filled":true,"opacity":0.9,"size":110},"encoding":{"color":{"field":"c","type":"nominal","legend":null}}},
{"data":{"name":"rltL"},"mark":{"type":"text","fontWeight":"bold","color":"#ffffff","fontSize":29},"encoding":{"text":{"field":"t"}}}
]},
{"encoding":{"x":{"field":"x","type":"quantitative","scale":{"domain":[0,38],"range":[720,1100]},"axis":null},"y":{"field":"y","type":"quantitative","scale":{"domain":[0,75.2],"range":[0,752]},"axis":null}},
"layer":[
{"data":{"name":"boxes"},"mark":{"type":"rect"},"encoding":{"x2":{"field":"x2"},"y2":{"field":"y2"},"fill":{"field":"c","type":"nominal","legend":null,"scale":{"domain":["white","forest","blue","magenta","black"],"range":["#ffffff","#2E8B4A","#2C4E9E","#C462A6","#111111"]}}}},
{"data":{"values":[{"x":16.3,"x2":31.9,"y":10.1,"y2":16.8}]},"mark":{"type":"rect","fillOpacity":0,"stroke":"#E3202C","strokeWidth":5},"encoding":{"x2":{"field":"x2"},"y2":{"field":"y2"}}},
{"data":{"values":[{"x":19.8,"x2":35.5,"y":66.8,"y2":73.4}]},"mark":{"type":"rect","fillOpacity":0,"stroke":"#2C4E9E","strokeWidth":4,"strokeDash":[20,15]},"encoding":{"x2":{"field":"x2"},"y2":{"field":"y2"}}},
{"data":{"name":"arrows"},"mark":{"type":"line","strokeWidth":6,"strokeCap":"round","strokeJoin":"miter"},"encoding":{"color":{"field":"c","type":"nominal","legend":null},"detail":{"field":"p"},"order":{"value":null}}},
{"data":{"name":"dash"},"mark":{"type":"line","color":"#ffffff","strokeWidth":6,"strokeDash":[27,20]},"encoding":{"order":{"value":null}}},
{"data":{"name":"texts"},"mark":{"type":"text","color":"#111111","fontSize":30},"encoding":{"text":{"field":"t"}}},
{"data":{"name":"sup"},"mark":{"type":"text","color":"#111111","fontSize":17},"encoding":{"text":{"field":"t"}}},
{"data":{"name":"letterB"},"mark":{"type":"text","color":"#ffffff","fontWeight":"bold","fontSize":56},"encoding":{"text":{"field":"t"}}}
]}
],
"resolve":{"scale":{"x":"independent","y":"independent"},"axis":{"x":"independent","y":"independent"}}
}
